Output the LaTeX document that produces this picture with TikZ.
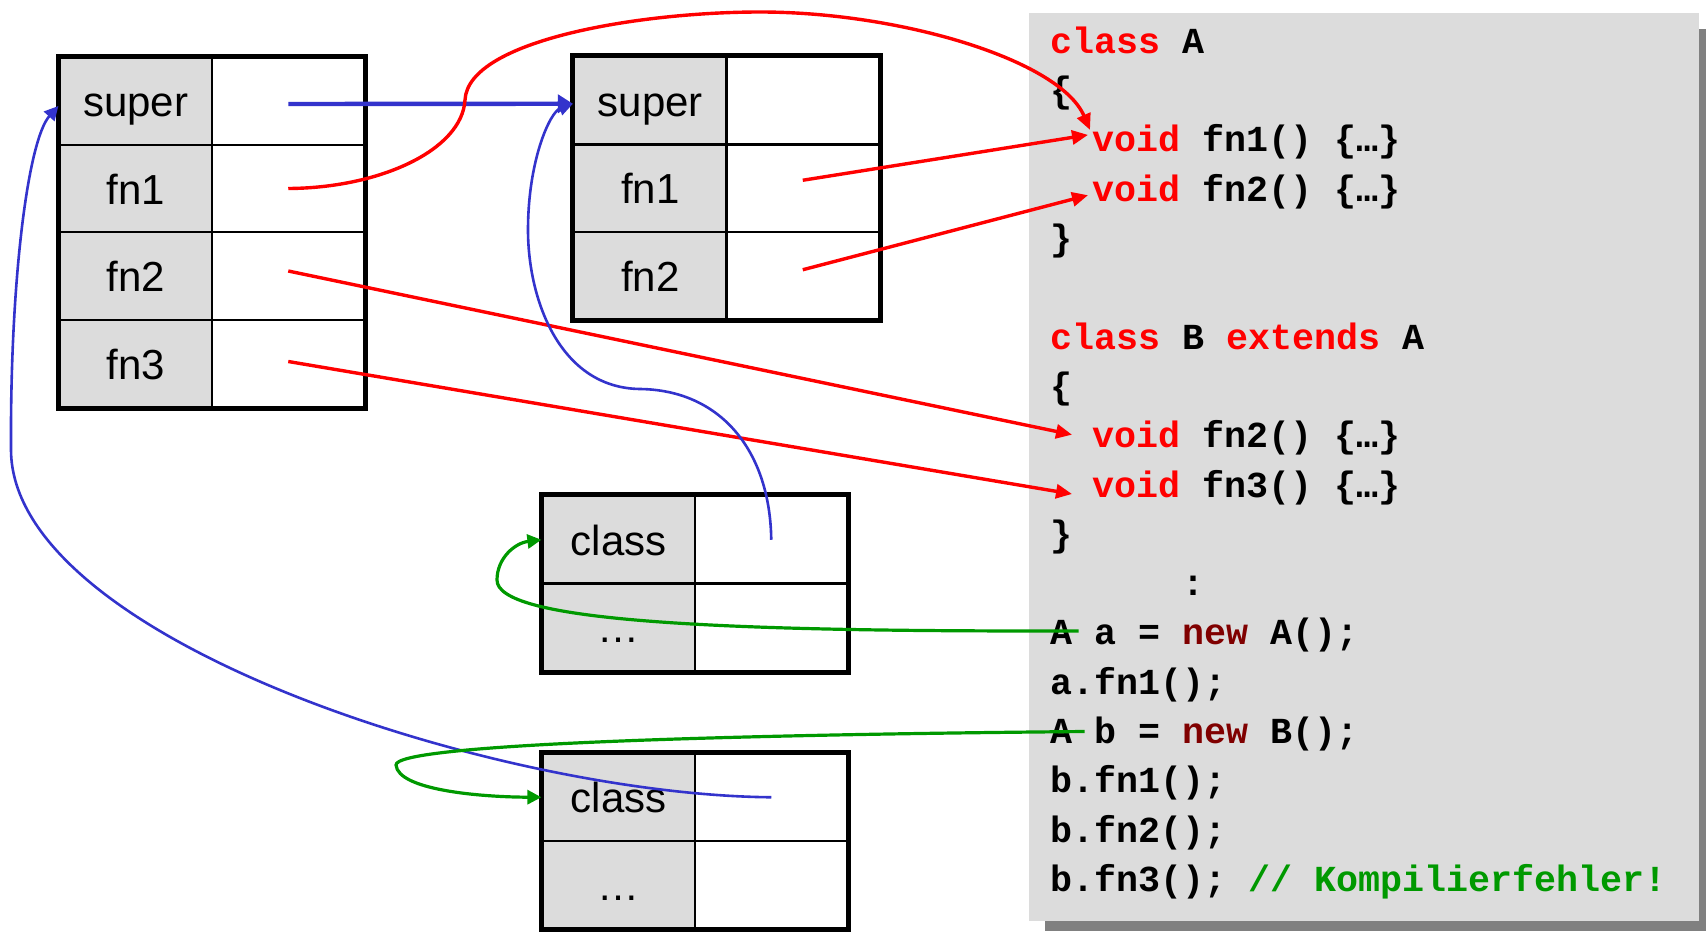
\documentclass[tikz,border=0pt]{standalone}
\usepackage{fontspec}
\setmainfont{Liberation Sans}
\setmonofont{Liberation Mono}
\usetikzlibrary{arrows.meta}
\usetikzlibrary{calc}
\definecolor{kwred}{HTML}{FF0000}
\definecolor{newred}{HTML}{800000}
\definecolor{cmtgreen}{HTML}{009900}
\definecolor{ptrblue}{HTML}{3333CC}
\definecolor{ptrgreen}{HTML}{009900}
\definecolor{panelgray}{HTML}{DCDCDC}
\definecolor{shadowgray}{HTML}{808080}
\newcommand{\cellfont}{\fontsize{21}{25}\selectfont}
\newcommand{\codefont}{\ttfamily\bfseries\fontsize{18.33}{22}\selectfont}
\newcommand{\kw}[1]{\textcolor{kwred}{#1}}
\newcommand{\kwnew}{\textcolor{newred}{new}}

\tikzset{
  namecell/.style={draw, line width=1.1pt, fill=panelgray, minimum width=76.25pt,
    minimum height=43.75pt, inner sep=0pt, text height=15.5pt, text depth=0pt, font=\cellfont},
  valcell/.style={namecell, fill=white},
  boxframe/.style={line width=2.5pt},
  codeline/.style={anchor=base west, inner sep=0pt, font=\codefont},
  redptr/.style={draw=kwred, line width=1.7pt, -{Triangle[length=8pt,width=7pt]}},
  blueptr/.style={draw=ptrblue, line width=1.3pt, -{Triangle[length=7pt,width=7pt]}},
  greenptr/.style={draw=ptrgreen, line width=1.6pt, -{Triangle[length=7pt,width=7pt]}},
}

\begin{document}
\begin{tikzpicture}[x=0.5pt, y=-0.5pt]
\useasboundingbox (0,0) rectangle (1706,931);

% code panel
\fill[shadowgray] (1045,29) rectangle (1706,931);
\fill[panelgray] (1029,13) rectangle (1699,921);

\node[codeline] (codeclassA) at (1049.7,53.3) {\kw{class} A};
\node[codeline] (codebraceA) at (1049.7,102.6) {\{};
\node[codeline] (codeAfn1) at (1092,151.9) {\kw{void} fn1() \{…\}};
\node[codeline] (codeAfn2) at (1092,201.2) {\kw{void} fn2() \{…\}};
\node[codeline] (codeendA) at (1049.7,250.5) {\}};
\node[codeline] (codeclassB) at (1049.7,349.1) {\kw{class} B \kw{extends} A};
\node[codeline] (codebraceB) at (1049.7,398.4) {\{};
\node[codeline] (codeBfn2) at (1092,447.7) {\kw{void} fn2() \{…\}};
\node[codeline] (codeBfn3) at (1092,497.0) {\kw{void} fn3() \{…\}};
\node[codeline] (codeendB) at (1049.7,546.3) {\}};
\node[codeline] (codedots) at (1181.7,595.6) {:};
\node[codeline] (codenewa) at (1049.7,644.9) {A a = \kwnew{} A();};
\node[codeline] (codecalla) at (1049.7,694.2) {a.fn1();};
\node[codeline] (codenewb) at (1049.7,743.5) {A b = \kwnew{} B();};
\node[codeline] (codecallb1) at (1049.7,792.8) {b.fn1();};
\node[codeline] (codecallb2) at (1049.7,842.1) {b.fn2();};
\node[codeline] (codecallb3) at (1049.7,891.4) {b.fn3(); \textcolor{cmtgreen}{// Kompilierfehler!}};

% table of B
\node[namecell] (b1super) at (135.75,101) {super};
\node[valcell] (b1superv) at (288.25,101) {};
\node[namecell] (b1fn1) at (135.75,188.5) {fn1};
\node[valcell] (b1fn1v) at (288.25,188.5) {};
\node[namecell] (b1fn2) at (135.75,276) {fn2};
\node[valcell] (b1fn2v) at (288.25,276) {};
\node[namecell] (b1fn3) at (135.75,363.5) {fn3};
\node[valcell] (b1fn3v) at (288.25,363.5) {};
\draw[boxframe] (b1super.north west) rectangle (b1fn3v.south east);

% table of A
\node[namecell] (b2super) at (650.25,100.75) {super};
\node[valcell] (b2superv) at (802.75,100.75) {};
\node[namecell] (b2fn1) at (650.25,188.25) {fn1};
\node[valcell] (b2fn1v) at (802.75,188.25) {};
\node[namecell] (b2fn2) at (650.25,275.75) {fn2};
\node[valcell] (b2fn2v) at (802.75,275.75) {};
\draw[boxframe] (b2super.north west) rectangle (b2fn2v.south east);

% object a
\node[namecell] (b3class) at (618.75,539.75) {class};
\node[valcell] (b3classv) at (771.25,539.75) {};
\node[namecell] (b3rest) at (618.75,627.25) {…};
\node[valcell] (b3restv) at (771.25,627.25) {};
\draw[boxframe] (b3class.north west) rectangle (b3restv.south east);

% object b
\node[namecell] (b4class) at (618.75,797.25) {class};
\node[valcell] (b4classv) at (771.25,797.25) {};
\node[namecell] (b4rest) at (618.75,884.75) {…};
\node[valcell] (b4restv) at (771.25,884.75) {};
\draw[boxframe] (b4class.north west) rectangle (b4restv.south east);

% pointers
\draw[blueptr, line width=2.2pt, -{Triangle[length=7.5pt,width=9pt]}] ($(b1superv.center)+(0,3)$) -- ($(b2super.west)+(0,3)$);
\draw[redptr] (b1fn1v.center) .. controls (380,188) and (462,150) .. (465,100)
  .. controls (468,40) and (640,12) .. (760,12)
  .. controls (900,12) and (1060,60) .. ($(codeAfn1.base west)+(-2,-22)$);
\draw[redptr] ($(b2fn1v.center)+(0,-8)$) -- ($(codeAfn1.base west)+(-4,-17)$);
\draw[redptr] ($(b2fn2v.center)+(0,-6)$) -- ($(codeAfn2.base west)+(-4,-6)$);
\draw[redptr] ($(b1fn2v.center)+(0,-5)$) -- ($(codeBfn2.base west)+(-20,-13)$);
\draw[redptr] ($(b1fn3v.center)+(0,-2)$) -- ($(codeBfn3.base west)+(-20,-3)$);

\draw[blueptr] (b3classv.center) .. controls (770,450) and (720,390) .. (640,389)
  .. controls (560,388) and (528,300) .. (528,230)
  .. controls (528,160) and (550,112) .. ($(b2super.west)+(0,3)$);
\draw[blueptr] (b4classv.center) .. controls (500,795) and (12,640) .. (11,450)
  .. controls (10,280) and (28,140) .. ($(b1super.west)+(0,5)$);

\draw[greenptr] ($(codenewa.base west)+(29,-14)$) .. controls (700,632) and (497,620) .. (497,580)
  .. controls (497,558) and (515,543) .. (b3class.west);
\draw[greenptr] ($(codenewb.base west)+(35,-12)$) .. controls (700,735) and (395,745) .. (396,765)
  .. controls (398,790) and (480,797) .. (b4class.west);

\end{tikzpicture}
\end{document}
